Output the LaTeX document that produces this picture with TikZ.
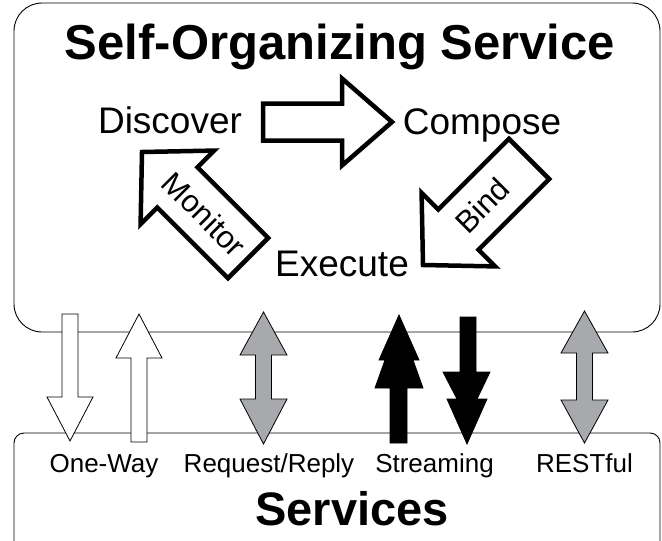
\documentclass[tikz,border=0pt]{standalone}
\usepackage{fontspec}
\setmainfont{Liberation Sans}
\usepackage{tikz}
\usetikzlibrary{calc}
\definecolor{arrowgray}{RGB}{167,169,172}

\tikzset{
  panel/.style={draw, line width=0.9pt, rounded corners=#1},
  bigarrow/.style={draw, line width=4.5pt, fill=white, line join=miter},
  linkarrow/.style={draw, line width=0.8pt, fill=#1},
  titletext/.style={anchor=base, font=\fontsize{#1}{#1}\selectfont\bfseries},
  steptext/.style={anchor=base, font=\fontsize{37}{37}\selectfont},
  arrowtext/.style={font=\fontsize{31}{31}\selectfont},
  linktext/.style={anchor=base, font=\fontsize{26}{26}\selectfont}
}

\begin{document}
\begin{tikzpicture}[x=1pt, y=-1pt]
		\clip (0,0) rectangle (662,541);
		% the two boxes
		\draw[panel=28pt] (14,3) rectangle (660,332);
		\draw[panel=10pt] (14,433) rectangle (660,580);
		\node[titletext=49] (sos) at (340,59) {Self-Organizing Service};
		\node[titletext=47] (srv) at (352,525) {Services};
		% the cycle
		\node[steptext] (disc) at (170,133) {Discover};
		\node[steptext] (comp) at (482,134) {Compose};
		\node[steptext] (exec) at (342,276) {Execute};
		\path[bigarrow] (392,122) -- (342,78.5) -- (342,103.5) -- (263,103.5)
			-- (263,140.5) -- (342,140.5) -- (342,165.5) -- cycle;
		\begin{scope}[shift={(142,152)}, rotate=-45]
			\path[bigarrow] (0,0) -- (50,-52) -- (50,-28.5) -- (150,-28.5)
				-- (150,28.5) -- (50,28.5) -- (50,52) -- cycle;
			\node[arrowtext, rotate=-45] (mon) at (88,0) {Monitor};
		\end{scope}
		\begin{scope}[shift={(423,265)}, rotate=45]
			\path[bigarrow] (0,0) -- (50,-52) -- (50,-28.5) -- (150,-28.5)
				-- (150,28.5) -- (50,28.5) -- (50,52) -- cycle;
			\node[arrowtext, rotate=45] (bind) at (84,0) {Bind};
		\end{scope}
		% links between the boxes
		\path[linkarrow=white] (62,314) -- (78,314) -- (78,397) -- (93,397)
			-- (70,441) -- (47,397) -- (62,397) -- cycle;
		\path[linkarrow=white] (139,314) -- (162,358) -- (147,358) -- (147,442)
			-- (131,442) -- (131,358) -- (116,358) -- cycle;
		\path[linkarrow=arrowgray] (263.5,312) -- (287,355) -- (271.5,355) -- (271.5,399)
			-- (287,399) -- (263.5,444) -- (240,399) -- (255.5,399) -- (255.5,355)
			-- (240,355) -- cycle;
		\path[linkarrow=arrowgray] (584.5,311) -- (608,353) -- (592.5,353) -- (592.5,400)
			-- (608,400) -- (584.5,443) -- (561,400) -- (576.5,400) -- (576.5,353)
			-- (561,353) -- cycle;
		\path[linkarrow=black] (399,315) -- (419,360) -- (413,360) -- (423,388)
			-- (407,388) -- (407,443) -- (390,443) -- (390,388) -- (375,388)
			-- (385,360) -- (379,360) -- cycle;
		\path[linkarrow=black] (460,317) -- (476,317) -- (476,372) -- (490,372)
			-- (477,399) -- (487,399) -- (467,444) -- (447,399) -- (457,399)
			-- (443,372) -- (460,372) -- cycle;
		\node[linktext] (oneway) at (104,472) {One-Way};
		\node[linktext] (reqrep) at (269,472) {Request/Reply};
		\node[linktext] (stream) at (434.5,472) {Streaming};
		\node[linktext] (rest) at (584.5,472) {RESTful};
	\end{tikzpicture}
\end{document}
